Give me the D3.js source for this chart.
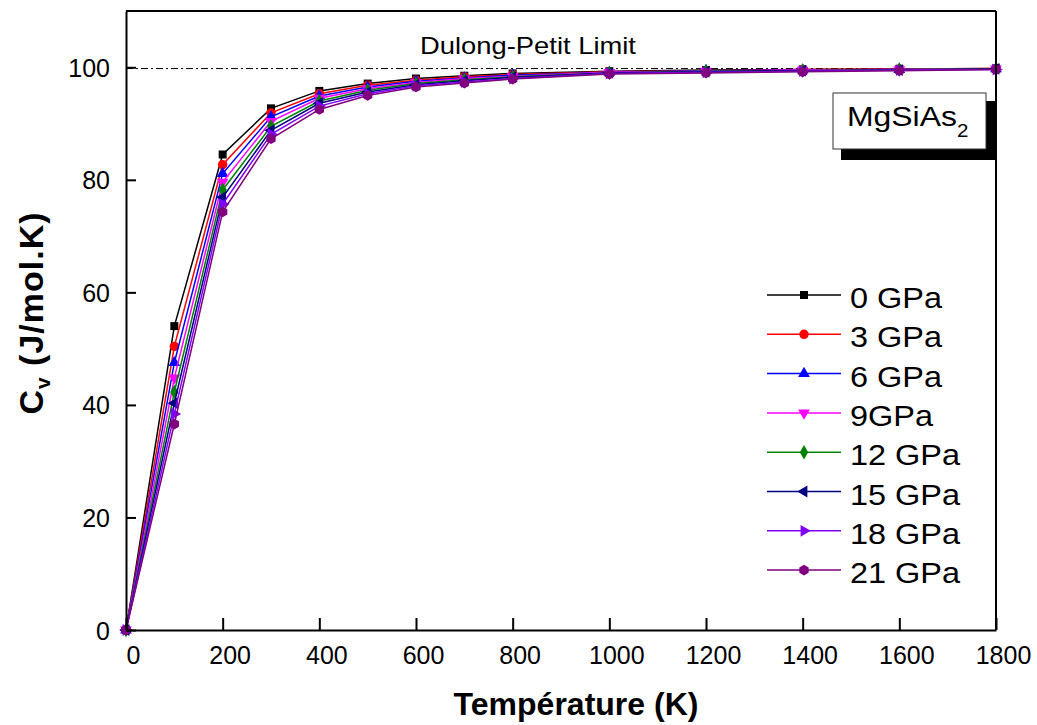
<!DOCTYPE html>
<html>
<head>
<meta charset="utf-8">
<script src="https://cdn.jsdelivr.net/npm/d3@7"></script>
<style>
    body { margin: 0; background: #fff; }
    svg { display: block; font-family: "Liberation Sans", Arial, sans-serif; }
</style>
</head>
<body>
<svg width="1037" height="725"></svg>
<script>
// Data
var temps = [0, 100, 200, 300, 400, 500, 600, 700, 800, 1000, 1200, 1400, 1600, 1800];
var labels = ["0 GPa", "3 GPa", "6 GPa", "9GPa", "12 GPa", "15 GPa", "18 GPa", "21 GPa"];
var colors = ["#000000", "#ff0000", "#0000ff", "#ff00ff", "#008000", "#000080", "#8000ff", "#800080"];
var cv0  = [0, 54.0, 84.5, 92.7, 95.8, 97.1, 98.0, 98.5, 98.9, 99.3, 99.5, 99.6, 99.7, 99.8];
var cv3  = [0, 50.4, 82.7, 91.9, 95.3, 96.8, 97.7, 98.3, 98.7, 99.2, 99.4, 99.6, 99.7, 99.8];
var cv6  = [0, 47.5, 81.1, 91.2, 94.9, 96.5, 97.5, 98.1, 98.6, 99.1, 99.4, 99.5, 99.6, 99.7];
var cv9  = [0, 44.8, 79.6, 90.4, 94.5, 96.2, 97.3, 98.0, 98.4, 99.1, 99.3, 99.5, 99.6, 99.7];
var cv12 = [0, 42.3, 78.2, 89.5, 94.0, 95.9, 97.1, 97.8, 98.3, 99.0, 99.3, 99.4, 99.6, 99.7];
var cv15 = [0, 40.3, 76.9, 88.8, 93.6, 95.6, 96.9, 97.6, 98.2, 99.0, 99.2, 99.4, 99.5, 99.7];
var cv18 = [0, 38.4, 75.7, 88.1, 93.1, 95.3, 96.7, 97.4, 98.0, 98.9, 99.1, 99.3, 99.5, 99.6];
var cv21 = [0, 36.6, 74.3, 87.3, 92.5, 95.0, 96.5, 97.2, 97.9, 98.8, 99.0, 99.2, 99.4, 99.6];
var series = [cv0, cv3, cv6, cv9, cv12, cv15, cv18, cv21];
var xTicks = [0, 200, 400, 600, 800, 1000, 1200, 1400, 1600, 1800];
var yTicks = [0, 20, 40, 60, 80, 100];
var dulongPetit = 99.77;

var margin = {left: 126, top: 11, right: 41, bottom: 95};
var width = 1037 - margin.left - margin.right;
var height = 725 - margin.top - margin.bottom;

var svg = d3.select("svg");
var g = svg.append("g").attr("transform", `translate(${margin.left},${margin.top})`);

var x = d3.scaleLinear().domain([0, 1800]).range([0, width]);
var y = d3.scaleLinear().domain([0, 110]).range([height, 0]);

// hexagon for the last series
var hexagon = {
    draw: function(ctx, size) {
        var r = Math.sqrt(size / 2.6);
        for (var i = 0; i < 6; i++) {
            var a = Math.PI / 6 + i * Math.PI / 3;
            if (i === 0) ctx.moveTo(r * Math.cos(a), r * Math.sin(a));
            else ctx.lineTo(r * Math.cos(a), r * Math.sin(a));
        }
        ctx.closePath();
    }
};
var shapes = [
    {t: d3.symbolSquare, s: 64, rot: 0},
    {t: d3.symbolCircle, s: 70, rot: 0},
    {t: d3.symbolTriangle, s: 60, rot: 0},
    {t: d3.symbolTriangle, s: 60, rot: 180},
    {t: d3.symbolDiamond, s: 60, rot: 0},
    {t: d3.symbolTriangle, s: 60, rot: -90},
    {t: d3.symbolTriangle, s: 60, rot: 90},
    {t: hexagon, s: 75, rot: 0}
];

// dulong-petit limit line
g.append("line")
    .attr("x1", 0).attr("x2", width)
    .attr("y1", y(dulongPetit)).attr("y2", y(dulongPetit))
    .attr("stroke", "#000").attr("stroke-width", 1)
    .attr("stroke-dasharray", "7,3,2,3");

g.append("text")
    .attr("transform", `translate(${528 - margin.left},${54 - margin.top}) scale(1.19,1)`)
    .attr("text-anchor", "middle")
    .attr("font-size", 23)
    .text("Dulong-Petit Limit");

var line = d3.line()
    .x((d, i) => x(temps[i]))
    .y(d => y(d));

series.forEach(function(vals, k) {
    var sg = g.append("g");
    sg.append("path")
        .attr("d", line(vals))
        .attr("fill", "none")
        .attr("stroke", colors[k])
        .attr("stroke-width", 1.5);
    sg.selectAll("path.pt")
        .data(vals)
        .enter().append("path")
        .attr("class", "pt")
        .attr("d", d3.symbol().type(shapes[k].t).size(shapes[k].s))
        .attr("transform", (d, i) => `translate(${x(temps[i])},${y(d)}) rotate(${shapes[k].rot})`)
        .attr("fill", colors[k]);
});

// axes
var xAxis = g.append("g")
    .attr("transform", `translate(0,${height})`)
    .call(d3.axisBottom(x).tickValues(xTicks).tickFormat(d3.format("d"))
        .tickSizeInner(-12).tickSizeOuter(0).tickPadding(20));
var yAxis = g.append("g")
    .call(d3.axisLeft(y).tickValues(yTicks).tickFormat(d3.format("d"))
        .tickSizeInner(-10).tickSizeOuter(0).tickPadding(16));

[xAxis, yAxis].forEach(function(a) {
    a.select(".domain").attr("stroke-width", 2);
    a.selectAll(".tick line").attr("stroke-width", 2);
    a.selectAll(".tick text").attr("font-size", 25).attr("font-family", "Liberation Sans, Arial, sans-serif").attr("fill", "#000");
});
xAxis.selectAll(".tick text").attr("dx", 7).attr("dy", "0.55em");
yAxis.selectAll(".tick text").attr("dy", "0.36em");

// top and right frame
g.append("line").attr("x1", 0).attr("x2", width).attr("y1", 0).attr("y2", 0)
    .attr("stroke", "#000").attr("stroke-width", 2);
g.append("line").attr("x1", width).attr("x2", width).attr("y1", 0).attr("y2", height)
    .attr("stroke", "#000").attr("stroke-width", 2);

// axis titles
svg.append("text")
    .attr("x", 576).attr("y", 715)
    .attr("text-anchor", "middle")
    .attr("font-size", 32).attr("font-weight", "bold")
    .text("Température (K)");

var yt = svg.append("text")
    .attr("transform", "translate(43,313) rotate(-90)")
    .attr("text-anchor", "middle")
    .attr("font-size", 34).attr("font-weight", "bold")
    .attr("letter-spacing", 1);
yt.append("tspan").text("C");
yt.append("tspan").attr("font-size", 21).attr("dy", 7).text("v");
yt.append("tspan").attr("dy", -7).text(" (J/mol.K)");

// compound label with shadow
svg.append("rect")
    .attr("x", 841).attr("y", 101).attr("width", 155).attr("height", 59)
    .attr("fill", "#000");
svg.append("rect")
    .attr("x", 833).attr("y", 93).attr("width", 153).attr("height", 56)
    .attr("fill", "#fff").attr("stroke", "#333").attr("stroke-width", 1);
var mt = svg.append("text")
    .attr("transform", "translate(847,126) scale(1.14,1)")
    .attr("font-size", 28);
mt.append("tspan").text("MgSiAs");
mt.append("tspan").attr("font-size", 18).attr("dy", 11).text("2");

// legend
var legend = svg.append("g");
labels.forEach(function(lab, k) {
    var ly = 295 + k * 39.3;
    legend.append("line")
        .attr("x1", 767).attr("x2", 841)
        .attr("y1", ly).attr("y2", ly)
        .attr("stroke", colors[k]).attr("stroke-width", 1.5);
    legend.append("path")
        .attr("d", d3.symbol().type(shapes[k].t).size(shapes[k].s)())
        .attr("transform", `translate(804,${ly}) rotate(${shapes[k].rot})`)
        .attr("fill", colors[k]);
    legend.append("text")
        .attr("transform", `translate(850,${ly + 13}) scale(1.12,1)`)
        .attr("font-size", 29)
        .text(lab);
});
</script>
</body>
</html>
